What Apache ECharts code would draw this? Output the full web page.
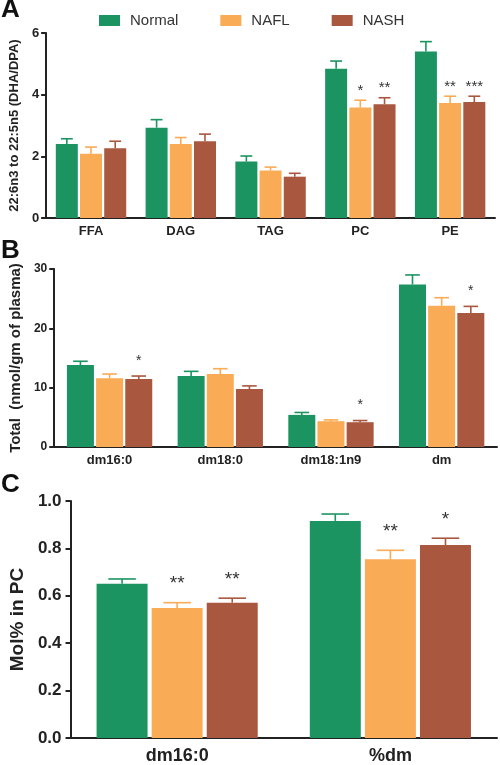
<!DOCTYPE html>
<html>
<head>
<meta charset="utf-8">
<script src="https://cdn.jsdelivr.net/npm/echarts@6/dist/echarts.min.js"></script>
<style>html,body{margin:0;padding:0;background:#fff;}#c{width:500px;height:765px;}</style>
</head>
<body>
<div id="c"></div>
<script>
// ---------- DATA ----------
const groupNames = ['Normal', 'NAFL', 'NASH'];
const groupColors = ['#1b9461', '#f9ab56', '#a9573f'];

// Panel A: 22:6n3 to 22:5n5 (DHA/DPA)
const catsA = ['FFA', 'DAG', 'TAG', 'PC', 'PE'];
const meanA_Normal = [2.40, 2.93, 1.83, 4.84, 5.40];
const semA_Normal  = [0.17, 0.26, 0.18, 0.25, 0.32];
const meanA_NAFL   = [2.08, 2.40, 1.54, 3.58, 3.73];
const semA_NAFL    = [0.22, 0.21, 0.11, 0.24, 0.22];
const meanA_NASH   = [2.26, 2.49, 1.34, 3.69, 3.76];
const semA_NASH    = [0.23, 0.23, 0.11, 0.21, 0.19];
const starsA_Normal = ['', '', '', '', ''];
const starsA_NAFL   = ['', '', '', '*', '**'];
const starsA_NASH   = ['', '', '', '**', '***'];
const ticksA = [0, 2, 4, 6];

// Panel B: Total (nmol/gm of plasma)
const catsB = ['dm16:0', 'dm18:0', 'dm18:1n9', 'dm'];
const meanB_Normal = [13.8, 11.96, 5.41, 27.4];
const semB_Normal  = [0.65, 0.79, 0.41, 1.6];
const meanB_NAFL   = [11.6, 12.3, 4.35, 23.8];
const semB_NAFL    = [0.7, 0.9, 0.22, 1.36];
const meanB_NASH   = [11.45, 9.76, 4.18, 22.57];
const semB_NASH    = [0.51, 0.54, 0.28, 1.13];
const starsB_Normal = ['', '', '', ''];
const starsB_NAFL   = ['', '', '', ''];
const starsB_NASH   = ['*', '', '*', '*'];
const ticksB = [0, 10, 20, 30];

// Panel C: Mol% in PC
const catsC = ['dm16:0', '%dm'];
const meanC_Normal = [0.651, 0.916];
const semC_Normal  = [0.020, 0.029];
const meanC_NAFL   = [0.548, 0.754];
const semC_NAFL    = [0.023, 0.038];
const meanC_NASH   = [0.571, 0.814];
const semC_NASH    = [0.019, 0.029];
const starsC_Normal = ['', ''];
const starsC_NAFL   = ['**', '**'];
const starsC_NASH   = ['**', '*'];
const ticksC = [0, 0.2, 0.4, 0.6, 0.8, 1.0];

// ---------- BUILD ----------
const panels = [
  {cats: catsA, means: [meanA_Normal, meanA_NAFL, meanA_NASH], sems: [semA_Normal, semA_NAFL, semA_NASH],
   stars: [starsA_Normal, starsA_NAFL, starsA_NASH], ticks: ticksA,
   grid: {left: 33, top: 33, width: 462, height: 185},
   bw: 22, gap: 0.10, starFont: 15, starDist: 2, xFont: 13, xMargin: 7, yFont: 13, yMargin: 7,
   name: '22:6n3 to 22:5n5 (DHA/DPA)', nameFont: 13, nameGap: 18, dec: 0},
  {cats: catsB, means: [meanB_Normal, meanB_NAFL, meanB_NASH], sems: [semB_Normal, semB_NAFL, semB_NASH],
   stars: [starsB_Normal, starsB_NAFL, starsB_NASH], ticks: ticksB,
   grid: {left: 41, top: 269, width: 456, height: 178},
   bw: 27, gap: 0.08, starFont: 14, starDist: 8, xFont: 13, xMargin: 7, yFont: 12, yMargin: 7,
   name: 'Total  (nmol/gm of plasma)', nameFont: 15, nameGap: 25, dec: 0},
  {cats: catsC, means: [meanC_Normal, meanC_NAFL, meanC_NASH], sems: [semC_Normal, semC_NAFL, semC_NASH],
   stars: [starsC_Normal, starsC_NAFL, starsC_NASH], ticks: ticksC,
   grid: {left: 61, top: 501, width: 436, height: 238},
   bw: 51, gap: 0.08, starFont: 19, starDist: 9, xFont: 18, xMargin: 9, yFont: 17, yMargin: 9,
   name: 'Mol% in PC', nameFont: 19, nameGap: 41, dec: 1}
];

const TXT = '#222';
const FONT = 'Liberation Sans, Arial, sans-serif';
const grids = [], xAxes = [], yAxes = [], series = [];

panels.forEach((p, pi) => {
  grids.push(Object.assign({containLabel: false}, p.grid));
  xAxes.push({
    type: 'category', gridIndex: pi, data: p.cats,
    axisLine: {lineStyle: {color: TXT, width: 2}},
    axisTick: {alignWithLabel: true, length: 5, lineStyle: {color: TXT, width: 2}},
    axisLabel: {color: TXT, fontWeight: 'bold', fontSize: p.xFont, margin: p.xMargin, fontFamily: FONT}
  });
  const tk = p.ticks;
  yAxes.push({
    type: 'value', gridIndex: pi, min: tk[0], max: tk[tk.length - 1], interval: tk[1] - tk[0],
    name: p.name, nameLocation: 'middle', nameGap: p.nameGap,
    nameTextStyle: {color: TXT, fontWeight: 'bold', fontSize: p.nameFont, fontFamily: FONT},
    axisLine: {show: true, lineStyle: {color: TXT, width: 2}},
    axisTick: {show: true, length: 5, lineStyle: {color: TXT, width: 2}},
    splitLine: {show: false},
    axisLabel: {color: TXT, fontWeight: 'bold', fontSize: p.yFont, margin: p.yMargin, fontFamily: FONT,
      formatter: v => Number(v).toFixed(p.dec)}
  });
  groupNames.forEach((g, gi) => {
    series.push({
      type: 'bar', name: g, xAxisIndex: pi, yAxisIndex: pi,
      data: p.means[gi], barWidth: p.bw, barGap: (p.gap * 100) + '%',
      itemStyle: {color: groupColors[gi]}, z: 2, silent: true
    });
  });
  groupNames.forEach((g, gi) => {
    const means = p.means[gi], sems = p.sems[gi], stars = p.stars[gi];
    series.push({
      type: 'custom', name: g + ' err', xAxisIndex: pi, yAxisIndex: pi, z: 5, silent: true,
      data: means.map((m, k) => [k, m, sems[k]]),
      encode: {x: 0, y: 1},
      renderItem: (params, api) => {
        const k = api.value(0), m = api.value(1), s = api.value(2);
        const b = api.coord([k, m]);
        const t = api.coord([k, m + s]);
        const off = (gi - 1) * p.bw * (1 + p.gap);
        const cx = b[0] + off;
        const hw = p.bw * 0.27;
        const col = groupColors[gi];
        const children = [
          {type: 'line', shape: {x1: cx, y1: b[1], x2: cx, y2: t[1]}, style: {stroke: col, lineWidth: 1.6}},
          {type: 'line', shape: {x1: cx - hw, y1: t[1], x2: cx + hw, y2: t[1]}, style: {stroke: col, lineWidth: 1.6}}
        ];
        const st = stars[params.dataIndex];
        if (st) {
          children.push({type: 'text', x: cx, y: t[1] - p.starDist,
            style: {text: st, fill: '#333', fontSize: p.starFont, fontFamily: FONT,
              align: 'center', verticalAlign: 'bottom'}});
        }
        return {type: 'group', children: children};
      }
    });
  });
});

const chart = echarts.init(document.getElementById('c'), null, {renderer: 'canvas'});
chart.setOption({
  animation: false,
  backgroundColor: '#fff',
  legend: {
    data: groupNames, left: 94, top: 8, icon: 'rect', itemWidth: 21, itemHeight: 11, itemGap: 42,
    textStyle: {color: '#333', fontSize: 15, fontFamily: FONT, padding: [0, 0, 0, 5]}
  },
  grid: grids, xAxis: xAxes, yAxis: yAxes, series: series,
  graphic: [
    {type: 'text', left: 1, top: -3, style: {text: 'A', fontSize: 26, fontWeight: 'bold', fill: '#111', fontFamily: FONT}},
    {type: 'text', left: 1, top: 238, style: {text: 'B', fontSize: 26, fontWeight: 'bold', fill: '#111', fontFamily: FONT}},
    {type: 'text', left: 1, top: 472, style: {text: 'C', fontSize: 26, fontWeight: 'bold', fill: '#111', fontFamily: FONT}}
  ]
});
</script>
</body>
</html>
